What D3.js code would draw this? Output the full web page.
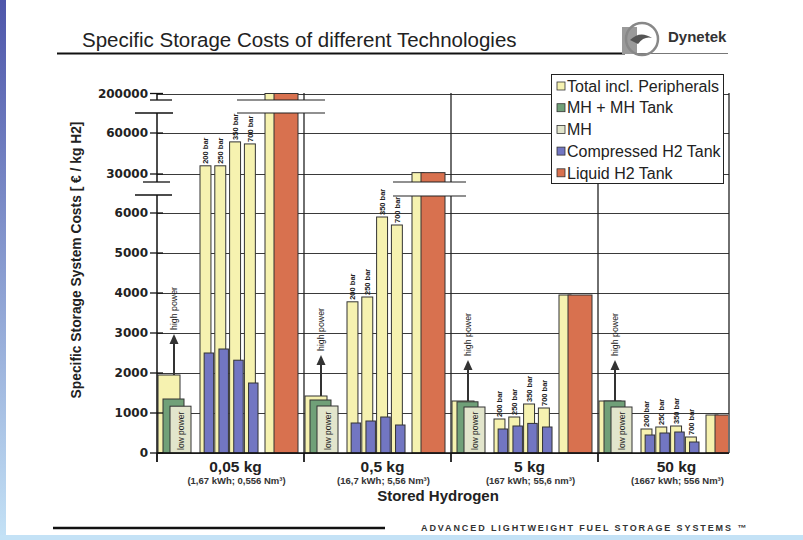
<!DOCTYPE html>
<html>
<head>
<meta charset="utf-8">
<script src="https://cdn.jsdelivr.net/npm/d3@7"></script>
<style>
  body { margin: 0; background: #fff; }
  svg { display: block; }
</style>
</head>
<body>
<script>
// Specific storage costs, broken y axis, 4 hydrogen quantities

const groups = ["0,05 kg", "0,5 kg", "5 kg", "50 kg"];
const groupNotes = ["(1,67 kWh; 0,556 Nm³)", "(16,7 kWh; 5,56 Nm³)", "(167 kWh; 55,6 nm³)", "(1667 kWh; 556 Nm³)"];
const pressures = ["200 bar", "250 bar", "350 bar", "700 bar"];

// metal hydride cluster: total (high power), MH + tank, MH (low power)
const mhTotal = [1950, 1425, 1300, 1300];
const mhTank  = [1350, 1325, 1280, 1300];
const mhOnly  = [1170, 1175, 1150, 1150];

// compressed H2 per pressure
const compTotal = [
  [36000, 36000, 53500, 52000],
  [3780, 3900, 5900, 5700],
  [850, 900, 1225, 1125],
  [600, 650, 675, 400]
];
const compTank = [
  [2500, 2600, 2320, 1750],
  [750, 800, 900, 700],
  [600, 675, 740, 650],
  [450, 500, 525, 275]
];

// liquid H2
const lh2Total = [200000, 31000, 3950, 950];
const lh2Tank  = [200000, 31000, 3950, 950];

const yTicks = [0, 1000, 2000, 3000, 4000, 5000, 6000, 30000, 60000, 200000];
const legendLabels = ["Total incl. Peripherals", "MH + MH Tank", "MH", "Compressed H2 Tank", "Liquid H2 Tank"];

const C = {
  total: "#f6f2b0",
  mhTank: "#70a078",
  mh: "#e2e5cc",
  comp: "#7276c2",
  lh2: "#d8714f"
};
const legendColors = [C.total, C.mhTank, C.mh, C.comp, C.lh2];

const W = 803, H = 540;
const svg = d3.select("body").append("svg").attr("width", W).attr("height", H);

// slide frame
const defs = svg.append("defs");
const lg = defs.append("linearGradient").attr("id", "frameV").attr("x1", 0).attr("y1", 0).attr("x2", 0).attr("y2", 1);
lg.append("stop").attr("offset", "0%").attr("stop-color", "#4e56aa");
lg.append("stop").attr("offset", "100%").attr("stop-color", "#c4e2f6");
svg.append("rect").attr("width", W).attr("height", H).attr("fill", "#fff");
svg.append("rect").attr("x", 0).attr("y", 0).attr("width", 6).attr("height", H).attr("fill", "url(#frameV)");
svg.append("rect").attr("x", 0).attr("y", 535).attr("width", W).attr("height", 5).attr("fill", "#c4e2f6");

const font = "Liberation Sans, Arial, sans-serif";

// header
svg.append("text").attr("x", 82).attr("y", 47)
  .style("font-family", font).style("font-size", "20.5px").style("fill", "#222")
  .text("Specific Storage Costs of different Technologies");
svg.append("line").attr("x1", 57).attr("x2", 625).attr("y1", 53.5).attr("y2", 53.5).attr("stroke", "#111").attr("stroke-width", 2);
svg.append("line").attr("x1", 625).attr("x2", 728).attr("y1", 53.5).attr("y2", 53.5).attr("stroke", "#777").attr("stroke-width", 1);

// logo
const logo = svg.append("g");
logo.append("rect").attr("x", 622).attr("y", 27).attr("width", 15).attr("height", 27).attr("fill", "#9a9a9a");
logo.append("circle").attr("cx", 642).attr("cy", 39).attr("r", 16).attr("fill", "none").attr("stroke", "#888").attr("stroke-width", 2.5);
logo.append("path").attr("d", "M630,40 Q640,30 652,38 Q644,36 638,44 Z").attr("fill", "#555");
svg.append("text").attr("x", 668).attr("y", 42)
  .style("font-family", font).style("font-size", "15px").style("font-weight", "bold").style("fill", "#333")
  .text("Dynetek");

// scales
const plotL = 157, plotR = 729, y0 = 453;
const x = d3.scaleBand().domain(groups).range([157, 745]);
const inner = d3.scaleLinear().domain([0, 147]).range([0, x.bandwidth()]);
const px = d3.scaleBand().domain(pressures).range([inner(43), inner(102.2)]);
const y = d3.scaleLinear().domain([0, 6000, 30000, 60000, 200000]).range([453, 213, 174, 133, 93.5]);

// grid
svg.append("g").selectAll("line").data(yTicks).join("line")
  .attr("x1", plotL).attr("x2", plotR)
  .attr("y1", d => Math.round(y(d)) + 0.5).attr("y2", d => Math.round(y(d)) + 0.5)
  .attr("stroke", "#3a3a3a").attr("stroke-width", 1);

// group separators and frame
svg.append("g").selectAll("line").data(groups.slice(1)).join("line")
  .attr("x1", d => x(d)).attr("x2", d => x(d)).attr("y1", 93).attr("y2", 462)
  .attr("stroke", "#222").attr("stroke-width", 1.3);
svg.append("line").attr("x1", plotR).attr("x2", plotR).attr("y1", 93).attr("y2", y0).attr("stroke", "#222").attr("stroke-width", 1.3);

// bars
const clip = defs.append("clipPath").attr("id", "plotClip");
clip.append("rect").attr("x", plotL).attr("y", 0).attr("width", plotR - plotL - 1).attr("height", y0);

const rows = [];
groups.forEach((g, i) => {
  const gx = x(g);
  rows.push({ x0: gx + inner(1), x1: gx + inner(23), v: mhTotal[i], c: C.total });
  rows.push({ x0: gx + inner(6), x1: gx + inner(27), v: mhTank[i], c: C.mhTank });
  rows.push({ x0: gx + inner(13), x1: gx + inner(34), v: mhOnly[i], c: C.mh });
  pressures.forEach((p, j) => {
    const b = gx + px(p), s = px.bandwidth();
    rows.push({ x0: b, x1: b + s * 0.74, v: compTotal[i][j], c: C.total });
    rows.push({ x0: b + s * 0.28, x1: b + s * 0.92, v: compTank[i][j], c: C.comp });
  });
  rows.push({ x0: gx + inner(108), x1: gx + inner(120), v: lh2Total[i], c: C.total });
  rows.push({ x0: gx + inner(117), x1: gx + inner(141), v: lh2Tank[i], c: C.lh2 });
});

svg.append("g").attr("clip-path", "url(#plotClip)").selectAll("rect").data(rows).join("rect")
  .attr("x", d => d.x0).attr("width", d => d.x1 - d.x0)
  .attr("y", d => y(d.v)).attr("height", d => y0 - y(d.v))
  .attr("fill", d => d.c).attr("stroke", "#333").attr("stroke-width", 1);

// pressure labels, power notes, arrows
groups.forEach((g, i) => {
  pressures.forEach((p, j) => {
    const cx = x(g) + px(p) + px.bandwidth() * 0.37 + 2.7;
    const ty = y(compTotal[i][j]) - 2;
    svg.append("text").attr("transform", `translate(${cx},${ty}) rotate(-90)`)
      .style("font-family", font).style("font-size", "7.5px").style("font-weight", "bold").style("fill", "#222")
      .text(p);
  });
  const gx = x(g);
  svg.append("text").attr("transform", `translate(${gx + inner(23.5) + 3.2},${y0 - 3}) rotate(-90)`)
    .style("font-family", font).style("font-size", "8.5px").style("fill", "#222")
    .text("low power");
  const ax = gx + inner(17);
  const top = y(mhTotal[i]);
  svg.append("line").attr("x1", ax).attr("x2", ax).attr("y1", top).attr("y2", top - 32)
    .attr("stroke", "#333").attr("stroke-width", 2);
  svg.append("path").attr("d", `M${ax - 4.5},${top - 31} L${ax + 4.5},${top - 31} L${ax},${top - 41} Z`).attr("fill", "#333");
  svg.append("text").attr("transform", `translate(${ax + 3.2},${top - 45}) rotate(-90)`)
    .style("font-family", font).style("font-size", "8.8px").style("fill", "#222")
    .text("high power");
});

// axis breaks across the chart
function breakBand(xa, xb, ya, yb) {
  svg.append("rect").attr("x", xa).attr("y", ya).attr("width", xb - xa).attr("height", yb - ya).attr("fill", "#fff");
  [ya, yb].forEach(v => svg.append("line").attr("x1", xa).attr("x2", xb).attr("y1", v).attr("y2", v).attr("stroke", "#222").attr("stroke-width", 1.2));
}
breakBand(237, 325, 100, 113);
breakBand(393, 466, 182, 196);

// y axis
const yAxis = svg.append("g");
[[93, 100], [113, 182], [195, y0 + 9]].forEach(s => {
  yAxis.append("line").attr("x1", plotL).attr("x2", plotL).attr("y1", s[0]).attr("y2", s[1]).attr("stroke", "#111").attr("stroke-width", 1.5);
});
yAxis.append("line").attr("x1", 150).attr("x2", 172).attr("y1", 100).attr("y2", 100).attr("stroke", "#111").attr("stroke-width", 1.3);
yAxis.append("line").attr("x1", 135).attr("x2", 173).attr("y1", 113).attr("y2", 113).attr("stroke", "#111").attr("stroke-width", 1.3);
yAxis.append("line").attr("x1", 143).attr("x2", 170).attr("y1", 182).attr("y2", 182).attr("stroke", "#111").attr("stroke-width", 1.3);
yAxis.append("line").attr("x1", 135).attr("x2", 172).attr("y1", 195).attr("y2", 195).attr("stroke", "#111").attr("stroke-width", 1.3);
yAxis.selectAll(".tk").data(yTicks).join("line").attr("class", "tk")
  .attr("x1", 150).attr("x2", 163).attr("y1", d => y(d)).attr("y2", d => y(d))
  .attr("stroke", "#111").attr("stroke-width", 1.3);
yAxis.selectAll("text").data(yTicks).join("text")
  .attr("x", 148).attr("y", d => y(d)).attr("dy", "0.36em").attr("text-anchor", "end")
  .style("font-family", "DejaVu Sans, sans-serif").style("font-size", "12px").style("font-weight", "bold").style("fill", "#222")
  .text(d => d);

// x axis
svg.append("line").attr("x1", plotL).attr("x2", plotR).attr("y1", y0).attr("y2", y0).attr("stroke", "#111").attr("stroke-width", 1.5);
svg.append("g").selectAll("line").data(groups).join("line")
  .attr("x1", d => x(d)).attr("x2", d => x(d)).attr("y1", y0).attr("y2", 462)
  .attr("stroke", "#111").attr("stroke-width", 1.3);
svg.append("g").selectAll("text").data(groups).join("text")
  .attr("x", d => x(d) + x.bandwidth() / 2 + 5).attr("y", 472).attr("text-anchor", "middle")
  .style("font-family", font).style("font-size", "15.5px").style("font-weight", "bold").style("fill", "#222")
  .text(d => d);
svg.append("g").selectAll("text").data(groupNotes).join("text")
  .attr("x", (d, i) => x(groups[i]) + x.bandwidth() / 2 + 6).attr("y", 484).attr("text-anchor", "middle")
  .style("font-family", font).style("font-size", "9.5px").style("font-weight", "bold").style("fill", "#333")
  .text(d => d);

svg.append("text").attr("x", 438).attr("y", 501).attr("text-anchor", "middle")
  .style("font-family", font).style("font-size", "15px").style("font-weight", "bold").style("fill", "#222")
  .text("Stored Hydrogen");
svg.append("text").attr("transform", "translate(81,260) rotate(-90)").attr("text-anchor", "middle")
  .style("font-family", font).style("font-size", "13.8px").style("font-weight", "bold").style("fill", "#222")
  .text("Specific Storage System Costs [ € / kg H2]");

// legend
const leg = svg.append("g");
leg.append("rect").attr("x", 551.5).attr("y", 74.5).attr("width", 172).attr("height", 109).attr("fill", "#fff").attr("stroke", "#222").attr("stroke-width", 1);
const li = leg.selectAll("g").data(legendLabels).join("g")
  .attr("transform", (d, i) => `translate(557,${86 + i * 21.7})`);
li.append("rect").attr("x", 0).attr("y", -4).attr("width", 8).attr("height", 8)
  .attr("fill", (d, i) => legendColors[i]).attr("stroke", "#333").attr("stroke-width", 0.8);
li.append("text").attr("x", 10).attr("y", 0).attr("dy", "0.36em")
  .style("font-family", font).style("font-size", "16px").style("fill", "#222")
  .text(d => d);

// footer
svg.append("line").attr("x1", 53).attr("x2", 385).attr("y1", 528).attr("y2", 528).attr("stroke", "#111").attr("stroke-width", 2.5);
svg.append("text").attr("x", 421).attr("y", 531)
  .style("font-family", font).style("font-size", "9px").style("font-weight", "bold").style("letter-spacing", "1.9px").style("fill", "#333")
  .text("ADVANCED LIGHTWEIGHT FUEL STORAGE SYSTEMS ™");
</script>
</body>
</html>
